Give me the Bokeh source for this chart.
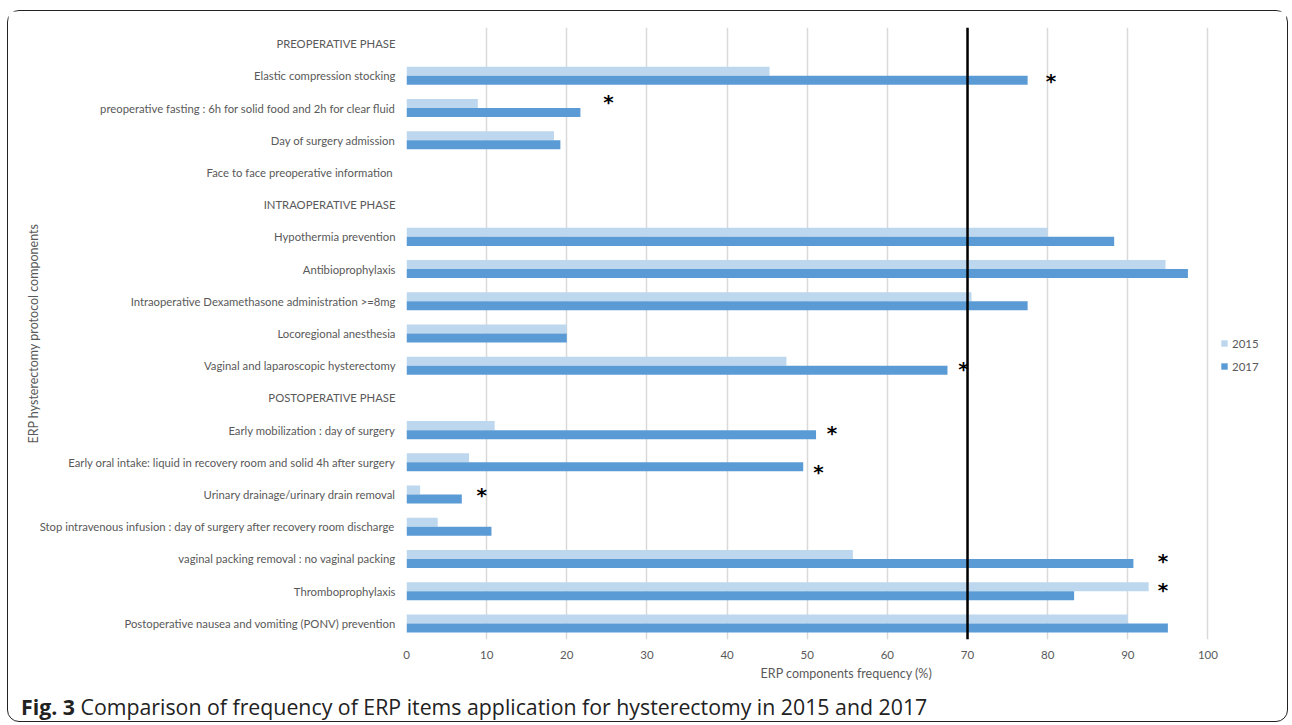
from bokeh.plotting import figure
from bokeh.models import (FactorRange, Range1d, Span, Legend, LegendItem, Div,
                          ColumnDataSource, FixedTicker)
from bokeh.layouts import column
from bokeh.transform import dodge
from bokeh.core.properties import value
from bokeh.embed import file_html
from bokeh.resources import INLINE

NAN = float("nan")

categories = [
    "PREOPERATIVE PHASE",
    "Elastic compression stocking",
    "preoperative fasting : 6h for solid food and 2h for clear fluid",
    "Day of surgery admission",
    "Face to face preoperative information ",
    "INTRAOPERATIVE PHASE",
    "Hypothermia prevention",
    "Antibioprophylaxis",
    "Intraoperative Dexamethasone administration >=8mg",
    "Locoregional anesthesia",
    "Vaginal and laparoscopic hysterectomy",
    "POSTOPERATIVE PHASE",
    "Early mobilization : day of surgery",
    "Early oral intake: liquid in recovery room and solid 4h after surgery",
    "Urinary drainage/urinary drain removal",
    "Stop intravenous infusion : day of surgery after recovery room discharge",
    "vaginal packing removal : no vaginal packing",
    "Thromboprophylaxis",
    "Postoperative nausea and vomiting (PONV) prevention",
]
values_2015 = [NAN, 45.3, 8.9, 18.4, NAN, NAN, 80.0, 94.7, 70.5, 20.0, 47.4,
               NAN, 11.0, 7.8, 1.7, 3.9, 55.7, 92.6, 90.0]
values_2017 = [NAN, 77.5, 21.7, 19.2, NAN, NAN, 88.3, 97.5, 77.5, 20.0, 67.5,
               NAN, 51.1, 49.5, 6.9, 10.6, 90.7, 83.3, 95.0]

# significance asterisks (category, x value, vertical shift in category units)
star_categories = [categories[1], categories[2], categories[10], categories[12],
                   categories[13], categories[14], categories[16], categories[17]]
star_x = [80.4, 25.2, 69.5, 53.1, 51.4, 9.4, 94.4, 94.4]
star_shift = [-0.11, 0.24, -0.04, -0.02, -0.23, 0.06, 0.0, 0.11]

x_ticks = [0, 10, 20, 30, 40, 50, 60, 70, 80, 90, 100]
threshold = 70

FONT = "Lato"
GRAY = "#595959"
C2015 = "#BDD7EE"
C2017 = "#5B9BD5"

src = ColumnDataSource(dict(cat=categories, v15=values_2015, v17=values_2017))
star_src = ColumnDataSource(dict(
    pos=[(c, s) for c, s in zip(star_categories, star_shift)],
    x=star_x, t=["*"] * len(star_x)))

# x range runs past 100 so the legend area sits inside the frame
p = figure(width=1278, height=684, output_backend="svg", toolbar_location=None,
           y_range=FactorRange(factors=categories[::-1], range_padding=0),
           x_range=Range1d(0, 109.8))
p.min_border_left = 398
p.min_border_right = 0
p.min_border_top = 16
p.min_border_bottom = 56
p.outline_line_color = None
p.background_fill_color = "white"
p.border_fill_color = "white"

r15 = p.hbar(y=dodge("cat", 0.14, range=p.y_range), right="v15", left=0, height=0.28,
             source=src, fill_color=C2015, line_color=None)
r17 = p.hbar(y=dodge("cat", -0.14, range=p.y_range), right="v17", left=0, height=0.28,
             source=src, fill_color=C2017, line_color=None)

p.text(x="x", y="pos", text="t", source=star_src, text_font=value("DejaVu Sans"),
       text_font_size="20px", text_font_style="bold", text_color="black",
       text_align="center", text_baseline="middle", y_offset=2)

p.add_layout(Span(location=threshold, dimension="height", line_color="black",
                  line_width=2.5))

# axes
p.xaxis.ticker = FixedTicker(ticks=x_ticks)
p.xaxis.axis_line_color = None
p.xaxis.major_tick_line_color = None
p.xaxis.minor_tick_line_color = None
p.xaxis.major_label_text_font = FONT
p.xaxis.major_label_text_font_size = "11.5px"
p.xaxis.major_label_text_color = GRAY
p.xaxis.major_label_standoff = 5
p.xaxis.axis_label = "ERP components frequency (%)"
p.xaxis.axis_label_text_font = FONT
p.xaxis.axis_label_text_font_size = "12.5px"
p.xaxis.axis_label_text_font_style = "normal"
p.xaxis.axis_label_text_color = GRAY
p.xaxis.axis_label_standoff = 4

p.yaxis.axis_line_color = None
p.yaxis.major_tick_line_color = None
p.yaxis.minor_tick_line_color = None
p.yaxis.major_label_text_font = FONT
p.yaxis.major_label_text_font_size = "11.3px"
p.yaxis.major_label_text_color = GRAY
p.yaxis.major_label_standoff = 5
p.yaxis.axis_label = "ERP hysterectomy protocol components"
p.yaxis.axis_label_text_font = FONT
p.yaxis.axis_label_text_font_size = "12.5px"
p.yaxis.axis_label_text_font_style = "normal"
p.yaxis.axis_label_text_color = GRAY
p.yaxis.axis_label_standoff = -4

p.xgrid.grid_line_color = "#D9D9D9"
p.xgrid.grid_line_width = 1.5
p.ygrid.grid_line_color = None

legend = Legend(items=[LegendItem(label="2015", renderers=[r15]),
                       LegendItem(label="2017", renderers=[r17])],
                location=(814, 266))
legend.glyph_width = 8
legend.glyph_height = 8
legend.label_height = 14
legend.spacing = 9
legend.padding = 0
legend.margin = 0
legend.label_standoff = 4
legend.border_line_color = None
legend.background_fill_alpha = 0
legend.label_text_font = FONT
legend.label_text_font_size = "11.5px"
legend.label_text_color = GRAY
p.add_layout(legend)

caption = Div(
    text="<b>Fig. 3</b> Comparison of frequency of ERP items application for hysterectomy in 2015 and 2017",
    width=1278, height=25, margin=(0, 0, 0, 0),
    styles={"font-family": "'Open Sans'", "font-size": "21.3px", "color": "#222222",
            "padding-left": "13px", "line-height": "23px", "box-sizing": "border-box",
            "white-space": "nowrap"})

layout = column(p, caption, spacing=0, width=1281, height=712,
                styles={"border": "1.5px solid #222222", "border-radius": "12px",
                        "margin-left": "7px", "margin-top": "10px",
                        "background": "white"})

open("out.html", "w").write(file_html(layout, INLINE))
